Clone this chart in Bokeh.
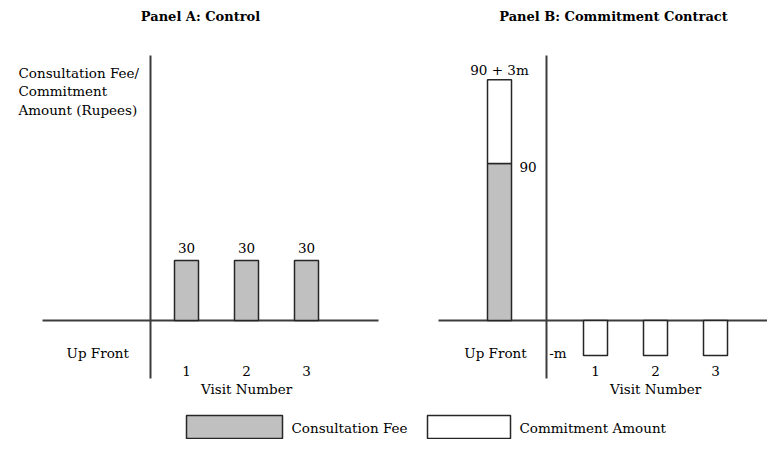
from bokeh.plotting import figure
from bokeh.models import Range1d
from bokeh.core.properties import value
from bokeh.embed import file_html
from bokeh.resources import INLINE

# ---- data ----
visits = [1, 2, 3]
visit_labels = ["1", "2", "3"]
control_fee = [30, 30, 30]
control_fee_labels = ["30", "30", "30"]
upfront_fee = [90]
upfront_commitment = [48]          # drawn height of "3m"
visit_commitment = [-20, -20, -20] # drawn depth of "-m"
legend_labels = ["Consultation Fee", "Commitment Amount"]
legend_fills = ["#c0c0c0", "#ffffff"]

# ---- layout ----
W, H = 767, 439
FONT = value("DejaVu Serif")
FS = "13.5px"
INK = "#262626"
AX = "#3c3c3c"
GRAY = legend_fills[0]
BASE = 320          # baseline pixel row
XA0, XB0 = 126, 535 # pixel column of visit "0" in panels A and B
UNIT = 60.0         # pixels per visit
SA = 2.0            # px per rupee, panel A
SB = 157 / 90.0     # px per rupee, panel B

p = figure(width=W, height=H, output_backend="svg", toolbar_location=None,
           x_range=Range1d(0, W), y_range=Range1d(H, 0),
           x_axis_location=None, y_axis_location=None, min_border=0)
p.grid.visible = False
p.outline_line_color = None
p.background_fill_color = "white"
p.border_fill_color = "white"

p.extra_x_ranges["a"] = Range1d(-XA0 / UNIT, (W - XA0) / UNIT)
p.extra_y_ranges["a"] = Range1d(-(H - BASE) / SA, BASE / SA)
p.extra_x_ranges["b"] = Range1d(-XB0 / UNIT, (W - XB0) / UNIT)
p.extra_y_ranges["b"] = Range1d(-(H - BASE) / SB, BASE / SB)

def txt(x, y, t, rn=None, align="center", baseline="middle", yoff=0, bold=False,
        size=FS, lh=1.2):
    kw = {}
    if rn:
        kw = dict(x_range_name=rn, y_range_name=rn)
    p.text(x=x, y=y, text=t, text_font=FONT, text_font_size=size,
           text_align=align, text_baseline=baseline, y_offset=yoff,
           text_line_height=lh, text_color="black",
           text_font_style="bold" if bold else "normal", **kw)

# ---------- Panel A ----------
ra = dict(x_range_name="a", y_range_name="a")
p.segment(x0=[-1.4], y0=[0], x1=[4.2], y1=[0], line_color=AX, line_width=2, **ra)
p.segment(x0=[0.4], y0=[-29], x1=[0.4], y1=[132.5], line_color=AX, line_width=2, **ra)
p.vbar(x=visits, top=control_fee, bottom=0, width=0.4, fill_color=GRAY,
       line_color=INK, line_width=1.5, **ra)
txt(visits, control_fee, control_fee_labels, "a", yoff=-13)
txt(visits, [0] * 3, visit_labels, "a", yoff=50)
txt([2], [0], ["Visit Number"], "a", yoff=68)
txt([-0.48], [0], ["Up Front"], "a", yoff=32)
txt([18], [64], ["Consultation Fee/\nCommitment\nAmount (Rupees)"], align="left",
    baseline="top", lh=1.17)
txt([200], [16], ["Panel A: Control"], bold=True, size="13px")

# ---------- Panel B ----------
rb = dict(x_range_name="b", y_range_name="b")
p.segment(x0=[-1.6167], y0=[0], x1=[4.5], y1=[0], line_color=AX, line_width=2, **rb)
p.segment(x0=[0.1833], y0=[-33.25], x1=[0.1833], y1=[151.9], line_color=AX, line_width=2, **rb)
up_x = [-0.6]
p.vbar(x=up_x, top=upfront_fee, bottom=0, width=0.4, fill_color=GRAY,
       line_color=INK, line_width=1.5, **rb)
top_total = [upfront_fee[0] + upfront_commitment[0]]
p.vbar(x=up_x, top=top_total, bottom=upfront_fee, width=0.4, fill_color=legend_fills[1],
       line_color=INK, line_width=1.5, **rb)
p.vbar(x=visits, top=0, bottom=visit_commitment, width=0.4, fill_color=legend_fills[1],
       line_color=INK, line_width=1.5, **rb)
txt(up_x, top_total, ["90 + 3m"], "b", yoff=-10)
txt([-0.267], upfront_fee, ["90"], "b", align="left", yoff=3)
txt([0.23], [0], ["-m"], "b", align="left", yoff=32)
txt(visits, [0] * 3, visit_labels, "b", yoff=50)
txt([2], [0], ["Visit Number"], "b", yoff=68)
txt([-0.667], [0], ["Up Front"], "b", yoff=32)
txt([613], [16], ["Panel B: Commitment Contract"], bold=True, size="13px")

# ---------- Legend ----------
lx = [186, 427]
lw = [96, 83]
p.quad(left=lx, right=[a + b for a, b in zip(lx, lw)], top=[415, 415], bottom=[438, 438],
       fill_color=legend_fills, line_color=INK, line_width=1.5)
txt([291, 519], [427, 427], legend_labels, align="left")

open("out.html", "w").write(file_html(p, INLINE))
